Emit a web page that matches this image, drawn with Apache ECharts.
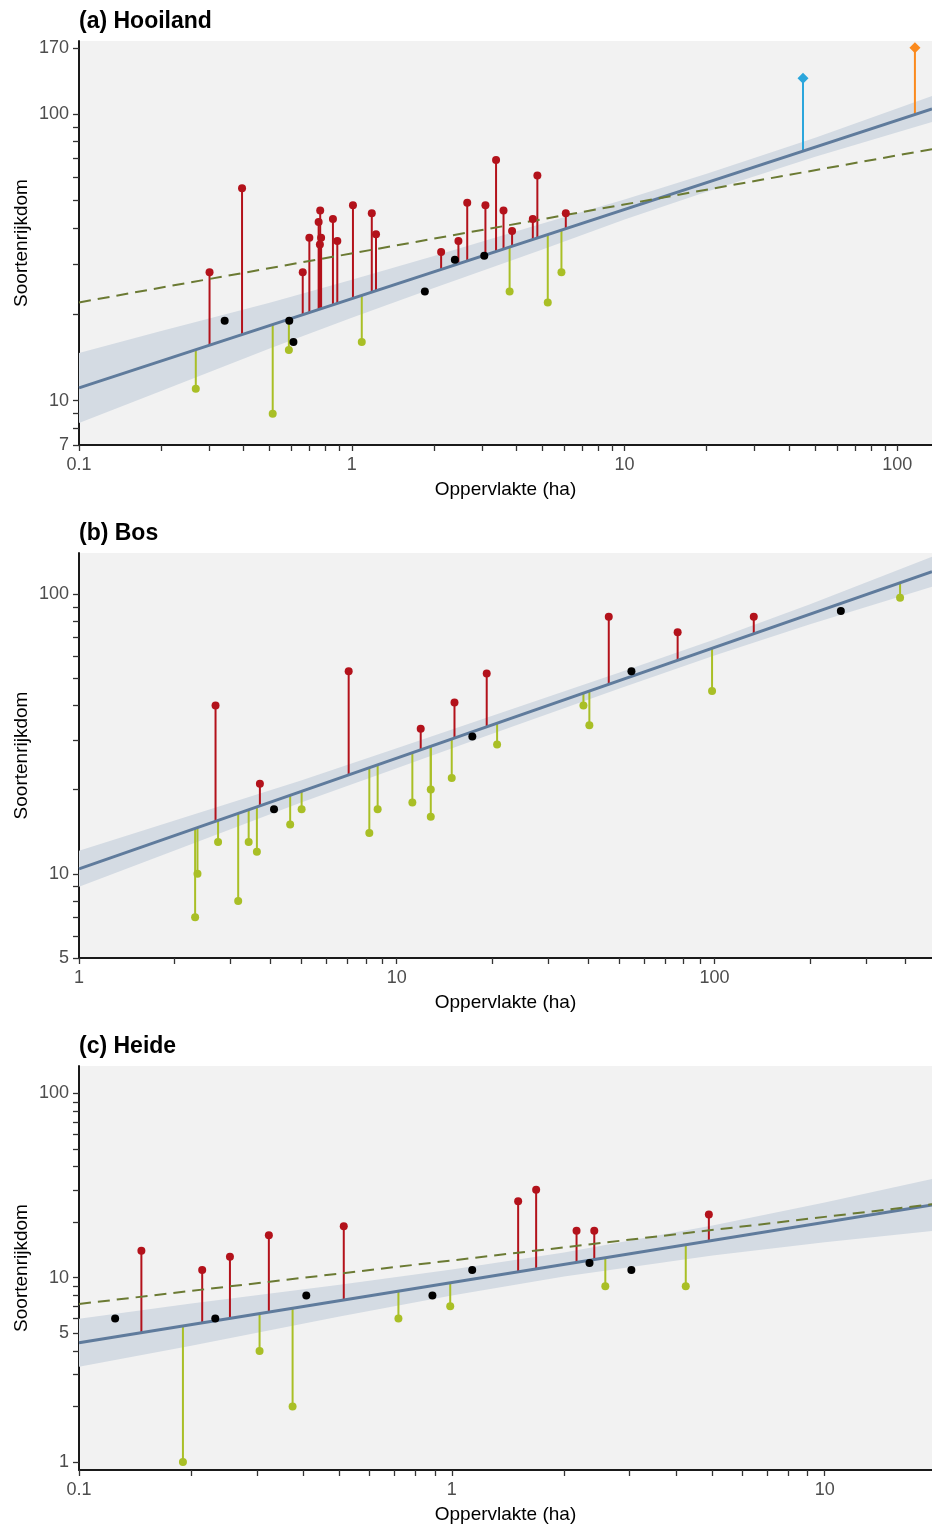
<!DOCTYPE html>
<html><head><meta charset="utf-8">
<script src="https://cdn.jsdelivr.net/npm/echarts@6/dist/echarts.min.js"></script>
<style>html,body{margin:0;padding:0;background:#fff}#c{width:932px;height:1524px}</style>
</head><body><div id="c"></div><script>
// ---------- (a) Hooiland ----------
const hooiRed = [[0.301,28],[0.396,55],[0.661,28],[0.699,37],[0.756,42],[0.766,46],[0.772,37],[0.764,35],[0.853,43],[0.885,36],[1.01,48],[1.184,45],[1.227,38],[2.126,33],[2.46,36],[2.65,49],[3.09,48],[3.38,69],[3.60,46],[3.87,39],[4.61,43],[4.79,61],[6.09,45]];
const hooiGreen = [[0.268,11],[0.513,9],[0.588,15],[1.088,16],[3.79,24],[5.23,22],[5.87,28]];
const hooiBlack = [[0.342,19],[0.590,19],[0.611,16],[1.853,24],[2.387,31],[3.06,32]];
const hooiBlue = [[45.1,133]];
const hooiOrange = [[116,170]];
const hooiFit = [[0.1,11.07],[134,104]];
const hooiRef = [[0.1,22.0],[134,75.3]];
const hooiBandX  = [0.1,0.2,0.5,1,2,5,10,20,50,134];
const hooiBandLo = [8.36,10.79,15.18,19.45,24.71,33.66,42.78,53.47,70.85,93.58];
const hooiBandHi = [14.66,17.47,21.95,26.37,31.93,41.47,50.22,61.8,82.5,115.3];
const hooiXLabels = [0.1,1,10,100];
const hooiXTicks = [0.1,0.2,0.3,0.4,0.5,0.6,0.7,0.8,0.9,1,2,3,4,5,6,7,8,9,10,20,30,40,50,60,70,80,90,100];
const hooiYLabels = [7,10,100,170];
const hooiYTicks = [7,8,9,10,20,30,40,50,60,70,80,90,100,170];

// ---------- (b) Bos ----------
const bosRed = [[2.69,40],[3.71,21],[7.06,53],[11.9,33],[15.2,41],[19.2,52],[46.5,83],[76.6,73],[133,83]];
const bosGreen = [[2.32,7],[2.36,10],[2.74,13],[3.17,8],[3.42,13],[3.63,12],[4.62,15],[5.02,17],[8.20,14],[8.71,17],[11.2,18],[12.8,20],[12.8,16],[14.9,22],[20.7,29],[38.7,40],[40.4,34],[98.3,45],[384,97]];
const bosBlack = [[4.11,17],[17.3,31],[54.8,53],[250,87]];
const bosFit = [[1,10.42],[484,120.2]];
const bosBandX  = [1,2,5,10,20,50,100,200,484];
const bosBandLo = [8.99,12.12,17.99,23.86,31.65,45.86,60.3,78.0,106.2];
const bosBandHi = [12.09,15.51,21.58,28.14,36.71,52.3,68.8,92.0,136.0];
const bosXLabels = [1,10,100];
const bosXTicks = [1,2,3,4,5,6,7,8,9,10,20,30,40,50,60,70,80,90,100,200,300,400];
const bosYLabels = [5,10,100];
const bosYTicks = [5,6,7,8,9,10,20,30,40,50,60,70,80,90,100];

// ---------- (c) Heide ----------
const heideRed = [[0.147,14],[0.214,11],[0.254,13],[0.323,17],[0.513,19],[1.506,26],[1.683,30],[2.16,18],[2.41,18],[4.89,22]];
const heideGreen = [[0.190,1],[0.305,4],[0.374,2],[0.719,6],[0.99,7],[2.58,9],[4.24,9]];
const heideBlack = [[0.125,6],[0.232,6],[0.407,8],[0.887,8],[1.134,11],[2.34,12],[3.03,11]];
const heideFit = [[0.1,4.44],[19.4,24.8]];
const heideRef = [[0.1,7.2],[19.4,25.0]];
const heideBandX  = [0.1,0.2,0.5,1,2,5,10,19.4];
const heideBandLo = [3.29,4.28,6.15,8.00,10.16,13.2,15.55,17.9];
const heideBandHi = [5.99,7.24,9.17,11.07,13.71,19.2,25.6,34.3];
const heideXLabels = [0.1,1,10];
const heideXTicks = [0.1,0.2,0.3,0.4,0.5,0.6,0.7,0.8,0.9,1,2,3,4,5,6,7,8,9,10];
const heideYLabels = [1,5,10,100];
const heideYTicks = [1,2,3,4,5,6,7,8,9,10,20,30,40,50,60,70,80,90,100];

const titles = ['(a) Hooiland','(b) Bos','(c) Heide'];

// ---------- styling ----------
const FONT = 'Liberation Sans, Arial, Helvetica, sans-serif';
const C_RED = '#b3121b', C_GREEN = '#a9bf26', C_BLACK = '#000000';
const C_FIT = '#5f7b9c', C_BAND = '#d4dbe3', C_REF = '#6b7a33';
const C_BLUE = '#2ba6dc', C_ORANGE = '#fb8a1d';

const panels = [
  {top:41,  h:404, xr:[0.1,134],  yr:[7,179.5],   red:hooiRed, green:hooiGreen, black:hooiBlack, fit:hooiFit, ref:hooiRef,
   bx:hooiBandX, bl:hooiBandLo, bh:hooiBandHi, xl:hooiXLabels, xt:hooiXTicks, yl:hooiYLabels, yt:hooiYTicks,
   extra:[{d:hooiBlue,c:C_BLUE},{d:hooiOrange,c:C_ORANGE}], ttop:10},
  {top:553, h:405, xr:[1,484],    yr:[5,140.3],   red:bosRed, green:bosGreen, black:bosBlack, fit:bosFit, ref:null,
   bx:bosBandX, bl:bosBandLo, bh:bosBandHi, xl:bosXLabels, xt:bosXTicks, yl:bosYLabels, yt:bosYTicks, extra:[], ttop:522},
  {top:1066,h:404, xr:[0.1,19.4], yr:[0.905,140.8], red:heideRed, green:heideGreen, black:heideBlack, fit:heideFit, ref:heideRef,
   bx:heideBandX, bl:heideBandLo, bh:heideBandHi, xl:heideXLabels, xt:heideXTicks, yl:heideYLabels, yt:heideYTicks, extra:[], ttop:1035}
];

function fmt(v){ return String(+(+v).toPrecision(6)); }
// foot of a residual segment: the fitted line's value at x (line is straight in log-log)
function fitAt(fit, x){
  const lx0=Math.log10(fit[0][0]), lx1=Math.log10(fit[1][0]);
  const ly0=Math.log10(fit[0][1]), ly1=Math.log10(fit[1][1]);
  return Math.pow(10, ly0 + (ly1-ly0)*(Math.log10(x)-lx0)/(lx1-lx0));
}

const grids=[], xAxes=[], yAxes=[], series=[], titleArr=[];
panels.forEach((p,gi)=>{
  grids.push({left:79, top:p.top, width:853, height:p.h, show:true, backgroundColor:'#f2f2f2', borderWidth:0, containLabel:false, outerBoundsMode:'none'});
  titleArr.push({text:titles[gi], left:79, top:p.ttop, padding:0, textStyle:{fontFamily:FONT, fontSize:23, fontWeight:'bold', color:'#000'}});
  const axLine = {show:true, onZero:false, lineStyle:{color:'#1a1a1a', width:2}};
  xAxes.push({type:'log', logBase:10, gridIndex:gi, min:p.xr[0], max:p.xr[1],
    name:'Oppervlakte (ha)', nameLocation:'middle', nameGap:35, nameMoveOverlap:false,
    nameTextStyle:{fontFamily:FONT, fontSize:19, color:'#000'},
    axisLine:axLine,
    axisTick:{show:true, inside:false, length:6, customValues:p.xt, lineStyle:{color:'#333', width:1.3}},
    axisLabel:{show:true, customValues:p.xl, formatter:fmt, color:'#4d4d4d', fontFamily:FONT, fontSize:18, margin:11, hideOverlap:false},
    splitLine:{show:false}, minorTick:{show:false}, minorSplitLine:{show:false}});
  yAxes.push({type:'log', logBase:10, gridIndex:gi, min:p.yr[0], max:p.yr[1],
    name:'Soortenrijkdom', nameLocation:'middle', nameGap:48, nameRotate:90, nameMoveOverlap:false,
    nameTextStyle:{fontFamily:FONT, fontSize:19, color:'#000'},
    axisLine:axLine,
    axisTick:{show:true, inside:false, length:6, customValues:p.yt, lineStyle:{color:'#333', width:1.3}},
    axisLabel:{show:true, customValues:p.yl, formatter:fmt, color:'#4d4d4d', fontFamily:FONT, fontSize:18, margin:10, hideOverlap:false},
    splitLine:{show:false}, minorTick:{show:false}, minorSplitLine:{show:false}});

  // confidence band polygon
  series.push({type:'custom', xAxisIndex:gi, yAxisIndex:gi, z:1, silent:true,
    data:p.bx.map((x,i)=>[x,p.bl[i],p.bh[i]]), encode:{x:0, y:[1,2]},
    renderItem:function(params, api){
      if (params.dataIndex !== 0) return null;
      const pts=[];
      for (let i=0;i<p.bx.length;i++) pts.push(api.coord([p.bx[i], p.bh[i]]));
      for (let i=p.bx.length-1;i>=0;i--) pts.push(api.coord([p.bx[i], p.bl[i]]));
      return {type:'polygon', shape:{points:pts}, style:{fill:C_BAND}};
    }});

  // residual segments
  const segs=[];
  p.red.forEach(d=>segs.push([d[0], fitAt(p.fit,d[0]), d[1], 0]));
  p.green.forEach(d=>segs.push([d[0], fitAt(p.fit,d[0]), d[1], 1]));
  p.extra.forEach((e,k)=>e.d.forEach(d=>segs.push([d[0], fitAt(p.fit,d[0]), d[1], 2+k])));
  const segColors=[C_RED, C_GREEN].concat(p.extra.map(e=>e.c));
  series.push({type:'custom', xAxisIndex:gi, yAxisIndex:gi, z:2, silent:true,
    data:segs, encode:{x:0, y:[1,2]},
    renderItem:function(params, api){
      const x=api.value(0), f=api.value(1), y=api.value(2), k=api.value(3);
      const a=api.coord([x,f]), b=api.coord([x,y]);
      return {type:'line', shape:{x1:a[0], y1:a[1], x2:b[0], y2:b[1]}, style:{stroke:segColors[k], lineWidth:2}};
    }});

  // fitted line
  series.push({type:'line', xAxisIndex:gi, yAxisIndex:gi, z:3, data:p.fit, showSymbol:false, symbol:'none', silent:true,
    lineStyle:{color:C_FIT, width:3, opacity:1}});
  // reference dashed line
  if (p.ref) series.push({type:'line', xAxisIndex:gi, yAxisIndex:gi, z:4, data:p.ref, showSymbol:false, symbol:'none', silent:true,
    lineStyle:{color:C_REF, width:2, type:[12,7], opacity:1}});

  // points
  const pt = (data, color, sym, size) => ({type:'scatter', xAxisIndex:gi, yAxisIndex:gi, z:5, data:data, symbol:sym, symbolSize:size,
    itemStyle:{color:color, opacity:1, borderWidth:0}, silent:true});
  series.push(pt(p.red, C_RED, 'circle', 8));
  series.push(pt(p.green, C_GREEN, 'circle', 8));
  series.push(pt(p.black, C_BLACK, 'circle', 8));
  p.extra.forEach(e=>series.push(pt(e.d, e.c, 'diamond', 11)));
});

const chart = echarts.init(document.getElementById('c'), null, {renderer:'canvas'});
chart.setOption({
  animation:false,
  backgroundColor:'#ffffff',
  title:titleArr,
  grid:grids, xAxis:xAxes, yAxis:yAxes, series:series
});
</script></body></html>
